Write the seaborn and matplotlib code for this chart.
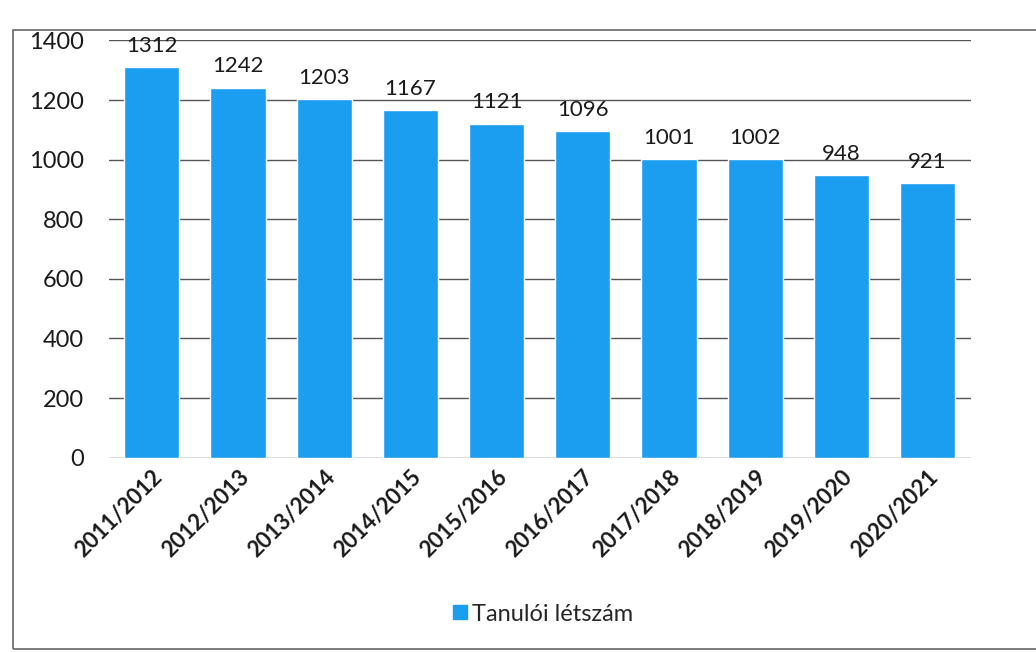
import pandas as pd
import matplotlib
matplotlib.use("Agg")
import matplotlib.pyplot as plt
import seaborn as sns
from matplotlib.patches import Rectangle

# data
school_years = ["2011/2012", "2012/2013", "2013/2014", "2014/2015", "2015/2016",
                "2016/2017", "2017/2018", "2018/2019", "2019/2020", "2020/2021"]
student_counts = [1312, 1242, 1203, 1167, 1121, 1096, 1001, 1002, 948, 921]
y_ticks = [0, 200, 400, 600, 800, 1000, 1200, 1400]
series_name = "Tanulói létszám"

BLUE = "#1B9DF0"
GREY = "#333333"

sns.set_theme(style="white")
plt.rcParams['font.family'] = ['Lato', 'DejaVu Sans']

df = pd.DataFrame({"year": school_years, "count": student_counts, "series": series_name})

fig = plt.figure(figsize=(10.36, 6.52), dpi=100)
ax = fig.add_axes([0.105, 0.298, 0.832, 0.64])

sns.barplot(data=df, x="year", y="count", hue="series", palette=[BLUE],
            saturation=1, width=0.64, ax=ax, legend=False, zorder=3)

ax.set_ylim(0, 1400)
ax.set_yticks(y_ticks)
ax.yaxis.grid(True, color="#555555", linewidth=1.0, zorder=0)
ax.set_xlabel("")
ax.set_ylabel("")
for s in ax.spines.values():
    s.set_visible(False)
ax.tick_params(axis="y", labelsize=17, colors="#1a1a1a", pad=18, length=0)
ax.tick_params(axis="x", labelsize=16, colors="#1a1a1a", length=0, pad=6)
plt.setp(ax.get_xticklabels(), rotation=45, ha="right", rotation_mode="anchor",
         fontweight="bold")

for i, v in enumerate(student_counts):
    ax.annotate(str(v), (i, v), xytext=(0, 8), textcoords="offset points",
                ha="center", va="bottom", fontsize=16, color="#1a1a1a")

# legend at the bottom
handle = plt.Line2D([], [], marker="s", linestyle="", color=BLUE, markersize=10)
fig.legend([handle], [series_name], loc="center", bbox_to_anchor=(0.523, 0.058),
           frameon=False, fontsize=17, handlelength=0.8, handletextpad=0.1)

# frame of the scanned chart
fig.add_artist(Rectangle((0.013, 0.004), 1.1, 0.95, transform=fig.transFigure,
                         fill=False, edgecolor="#666666", linewidth=1.2))

fig.savefig("out.png", dpi=100, facecolor="white")
